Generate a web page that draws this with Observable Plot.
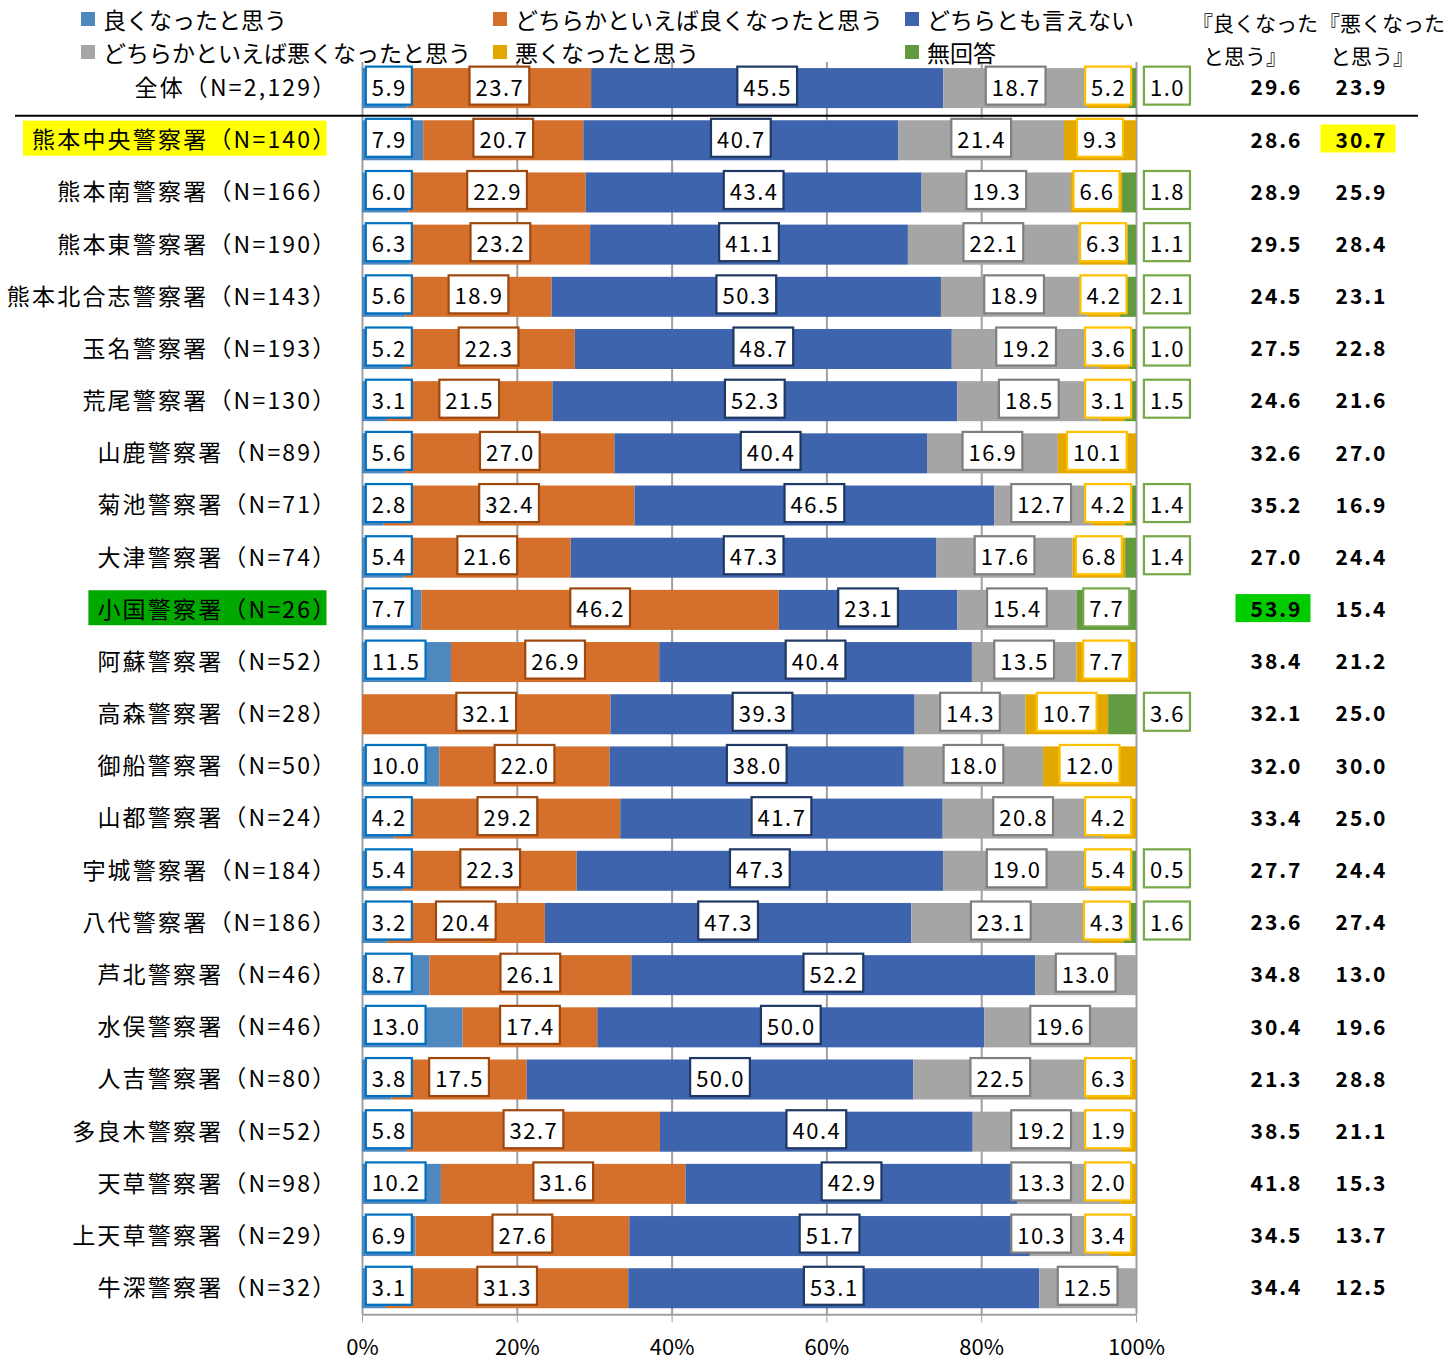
<!DOCTYPE html>
<html>
<head>
<meta charset="utf-8">
<script src="https://cdn.jsdelivr.net/npm/d3@7"></script>
<script src="https://cdn.jsdelivr.net/npm/@observablehq/plot@0.6"></script>
<style>
  body { margin: 0; background: #fff; font-family: "Noto Sans CJK JP", sans-serif; }
  #header { position: relative; width: 1450px; height: 60px; }
  .lg { position: absolute; height: 34px; display: flex; align-items: center; font-size: 23px; white-space: nowrap; color: #000; }
  .sw { display: inline-block; width: 14px; height: 14px; margin-right: 8px; }
  .ct { position: absolute; font-size: 21px; white-space: nowrap; line-height: 34px; color: #000; }
  g.cat text { letter-spacing: 2.2px; }
  g.lbl text { letter-spacing: 1.5px; }
  g.tot text { letter-spacing: 2px; }
</style>
</head>
<body>
<div id="header"></div>
<div id="chart"></div>
<script>
// ---------------- data ----------------
const categories = [
  "全体（N=2,129）", "熊本中央警察署（N=140）", "熊本南警察署（N=166）", "熊本東警察署（N=190）",
  "熊本北合志警察署（N=143）", "玉名警察署（N=193）", "荒尾警察署（N=130）", "山鹿警察署（N=89）",
  "菊池警察署（N=71）", "大津警察署（N=74）", "小国警察署（N=26）", "阿蘇警察署（N=52）",
  "高森警察署（N=28）", "御船警察署（N=50）", "山都警察署（N=24）", "宇城警察署（N=184）",
  "八代警察署（N=186）", "芦北警察署（N=46）", "水俣警察署（N=46）", "人吉警察署（N=80）",
  "多良木警察署（N=52）", "天草警察署（N=98）", "上天草警察署（N=29）", "牛深警察署（N=32）"
];
const good         = [5.9, 7.9, 6.0, 6.3, 5.6, 5.2, 3.1, 5.6, 2.8, 5.4, 7.7, 11.5, 0, 10.0, 4.2, 5.4, 3.2, 8.7, 13.0, 3.8, 5.8, 10.2, 6.9, 3.1];
const somewhatGood = [23.7, 20.7, 22.9, 23.2, 18.9, 22.3, 21.5, 27.0, 32.4, 21.6, 46.2, 26.9, 32.1, 22.0, 29.2, 22.3, 20.4, 26.1, 17.4, 17.5, 32.7, 31.6, 27.6, 31.3];
const neither      = [45.5, 40.7, 43.4, 41.1, 50.3, 48.7, 52.3, 40.4, 46.5, 47.3, 23.1, 40.4, 39.3, 38.0, 41.7, 47.3, 47.3, 52.2, 50.0, 50.0, 40.4, 42.9, 51.7, 53.1];
const somewhatBad  = [18.7, 21.4, 19.3, 22.1, 18.9, 19.2, 18.5, 16.9, 12.7, 17.6, 15.4, 13.5, 14.3, 18.0, 20.8, 19.0, 23.1, 13.0, 19.6, 22.5, 19.2, 13.3, 10.3, 12.5];
const bad          = [5.2, 9.3, 6.6, 6.3, 4.2, 3.6, 3.1, 10.1, 4.2, 6.8, 0, 7.7, 10.7, 12.0, 4.2, 5.4, 4.3, 0, 0, 6.3, 1.9, 2.0, 3.4, 0];
const noAnswer     = [1.0, 0, 1.8, 1.1, 2.1, 1.0, 1.5, 0, 1.4, 1.4, 7.7, 0, 3.6, 0, 0, 0.5, 1.6, 0, 0, 0, 0, 0, 0, 0];
const goodTotal    = [29.6, 28.6, 28.9, 29.5, 24.5, 27.5, 24.6, 32.6, 35.2, 27.0, 53.9, 38.4, 32.1, 32.0, 33.4, 27.7, 23.6, 34.8, 30.4, 21.3, 38.5, 41.8, 34.5, 34.4];
const badTotal     = [23.9, 30.7, 25.9, 28.4, 23.1, 22.8, 21.6, 27.0, 16.9, 24.4, 15.4, 21.2, 25.0, 30.0, 25.0, 24.4, 27.4, 13.0, 19.6, 28.8, 21.1, 15.3, 13.7, 12.5];

const seriesNames = ["良くなったと思う", "どちらかといえば良くなったと思う", "どちらとも言えない",
                     "どちらかといえば悪くなったと思う", "悪くなったと思う", "無回答"];
const seriesColors = ["#4F88BE", "#D5702C", "#3E64AD", "#A5A5A5", "#E3A800", "#629B3F"];
const labelBorders = ["#0070C0", "#9E480E", "#1F3864", "#7F7F7F", "#FFC000", "#76A84A"];
const totalTitles = [["『良くなった", "と思う』"], ["『悪くなった", "と思う』"]];
const xTicks = [0, 0.2, 0.4, 0.6, 0.8, 1];
const xTickLabels = ["0%", "20%", "40%", "60%", "80%", "100%"];
const labelHighlights = [
  {cat: "熊本中央警察署（N=140）", color: "#FFFF00"},
  {cat: "小国警察署（N=26）", color: "#00A800"}
];
const totalHighlights = [
  {cat: "熊本中央警察署（N=140）", col: "bad", color: "#FFFF00"},
  {cat: "小国警察署（N=26）", col: "good", color: "#00CC00"}
];

// ---------------- header (legend + column titles) ----------------
const header = document.getElementById("header");
const legendCols = [81, 493, 905];
seriesNames.forEach((name, j) => {
  const d = document.createElement("div");
  d.className = "lg";
  d.style.left = legendCols[j % 3] + "px";
  d.style.top = (j < 3 ? 2 : 35) + "px";
  d.innerHTML = `<span class="sw" style="background:${seriesColors[j]}"></span>${name}`;
  header.appendChild(d);
});
const titleLefts = [[1192, 1319], [1203, 1330]];
totalTitles.forEach((lines, k) => {
  lines.forEach((t, l) => {
    const d = document.createElement("div");
    d.className = "ct";
    d.style.left = titleLefts[l][k] + "px";
    d.style.top = (l === 0 ? 5 : 38) + "px";
    d.textContent = t;
    header.appendChild(d);
  });
});

// ---------------- data tables ----------------
const PX = 1 / 774;                       // one pixel in x-scale units
const halfBox = t => (t.length >= 4 ? 32 : 27) * PX;
const seriesValues = [good, somewhatGood, neither, somewhatBad, bad, noAnswer];
const long = [];
const labels = [];
categories.forEach((cat, i) => {
  const total = seriesValues.reduce((s, arr) => s + arr[i], 0);
  let cum = 0;
  const rowLabels = [];
  seriesValues.forEach((arr, j) => {
    const v = arr[i];
    long.push({cat, series: seriesNames[j], value: v});
    const s = cum / total, e = (cum + v) / total;
    cum += v;
    if (v <= 0) return;
    const mid = (s + e) / 2;
    let x = mid;
    if (j === 0) x = 0.012;
    else if (j === 4) x = Math.min(mid, 0.964);
    else if (j === 5) x = v >= 5 ? Math.min(mid, 0.964) : 1.04;
    rowLabels.push({cat, j, x, text: v.toFixed(1)});
  });
  // keep the "somewhat bad" label clear of an inside label to its right
  const sb = rowLabels.find(d => d.j === 3);
  const next = rowLabels.find(d => d.j > 3 && d.x < 1);
  if (sb && next) {
    const limit = next.x - halfBox(next.text) - 8 * PX - halfBox(sb.text);
    sb.x = Math.min(sb.x, limit);
  }
  labels.push(...rowLabels);
});
const totals = categories.map((cat, i) => ({cat, good: goodTotal[i].toFixed(1), bad: badTotal[i].toFixed(1)}));

// ---------------- chart ----------------
const svgH = 1362 - 60;
const step = 52.18;
const marginTop = 2;
const marginBottom = svgH - marginTop - step * categories.length;

const chart = Plot.plot({
  width: 1450,
  height: svgH,
  marginLeft: 362,
  marginRight: 314,
  marginTop,
  marginBottom,
  style: {fontFamily: '"Noto Sans CJK JP", sans-serif', fontSize: "22px", background: "white", overflow: "visible"},
  x: {domain: [0, 1], axis: null},
  y: {domain: categories, axis: null, paddingInner: 0.233, paddingOuter: 0.1165, round: false},
  color: {domain: seriesNames, range: seriesColors, legend: false},
  marks: [
    Plot.ruleX(xTicks, {stroke: "#A0A0A0", strokeWidth: 2}),
    Plot.barX(long, Plot.stackX({x: "value", y: "cat", fill: "series", offset: "normalize"})),
    Plot.ruleY([categories[categories.length - 1]], {x1: 0, x2: 1, dy: step / 2, stroke: "#A0A0A0", strokeWidth: 2}),
    Plot.ruleY([categories[0]], {x1: -0.4483, x2: 1.3643, dy: step / 2 + 1, stroke: "black", strokeWidth: 2}),
    Plot.axisX({ticks: xTicks, tickFormat: d => xTickLabels[xTicks.indexOf(d)], tickSize: 8, tickPadding: 17,
                stroke: "#A0A0A0", fill: "black", fontSize: 22, label: null}),
    ...seriesNames.map((_, j) => Plot.text(labels.filter(d => d.j === j), {
      x: "x", y: "cat", text: "text", fontSize: 22, fill: "black",
      textAnchor: j === 0 ? "start" : "middle", className: `lbl lbl${j}`
    })),
    Plot.text(categories, {y: d => d, text: d => d, frameAnchor: "left", dx: -25, textAnchor: "end",
                           fontSize: 23, fill: "black", className: "cat"}),
    Plot.text(totals, {y: "cat", text: "good", frameAnchor: "right", dx: 140, textAnchor: "middle",
                       fontSize: 21, fontWeight: "bold", fill: "black", className: "tot totgood"}),
    Plot.text(totals, {y: "cat", text: "bad", frameAnchor: "right", dx: 225, textAnchor: "middle",
                       fontSize: 21, fontWeight: "bold", fill: "black", className: "tot totbad"})
  ]
});
document.getElementById("chart").appendChild(chart);

// ---------------- post-processing: boxes behind texts ----------------
const NS = "http://www.w3.org/2000/svg";
function boxBehind(textEl, {padL, padR, h, fill, stroke, sw, yAdj = 0}) {
  const b = textEl.getBBox();
  const r = document.createElementNS(NS, "rect");
  const cy = b.y + b.height / 2 + yAdj;
  r.setAttribute("x", b.x - padL);
  r.setAttribute("width", b.width + padL + padR);
  r.setAttribute("y", cy - h / 2);
  r.setAttribute("height", h);
  r.setAttribute("fill", fill);
  if (stroke) { r.setAttribute("stroke", stroke); r.setAttribute("stroke-width", sw); }
  const tr = textEl.getAttribute("transform");
  if (tr) r.setAttribute("transform", tr);
  textEl.parentNode.insertBefore(r, textEl);
}
const root = d3.select(chart);
seriesNames.forEach((_, j) => {
  root.selectAll(`g.lbl${j} text`).each(function () {
    boxBehind(this, {padL: 6, padR: 5, h: 38, fill: "white", stroke: labelBorders[j], sw: 2.2});
  });
});
root.selectAll("g.cat text").each(function () {
  const hl = labelHighlights.find(h => h.cat === this.textContent);
  if (hl) boxBehind(this, {padL: 9, padR: -11, h: 35, fill: hl.color});
});
["good", "bad"].forEach(col => {
  root.selectAll(`g.tot${col} text`).each(function (_, i) {
    const cat = totals[i].cat;
    const hl = totalHighlights.find(h => h.cat === cat && h.col === col);
    if (hl) boxBehind(this, {padL: 15, padR: 8, h: 28, fill: hl.color});
  });
});
</script>
</body>
</html>
